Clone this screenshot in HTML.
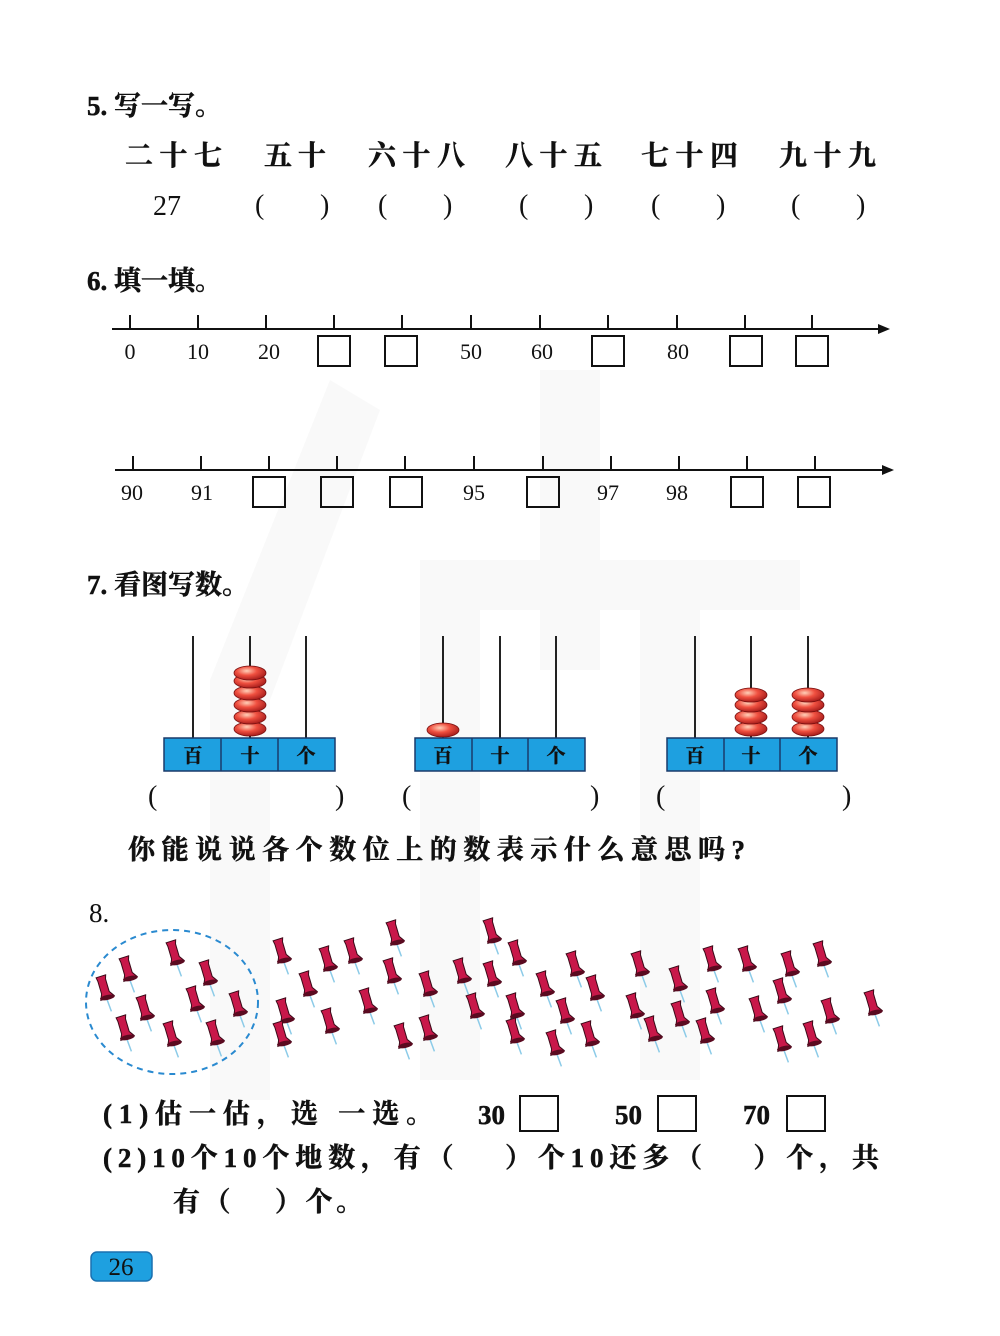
<!DOCTYPE html>
<html><head><meta charset="utf-8"><style>
html,body{margin:0;padding:0;background:#fff}
svg{display:block}
.t{font-family:"Liberation Serif","Noto Serif CJK SC",serif;fill:#111}
.c{font-family:"Liberation Serif","Noto Serif CJK SC",serif;fill:#111;stroke:#111;stroke-width:0.5;font-weight:bold}
</style></head><body>
<svg width="1000" height="1336" viewBox="0 0 1000 1336" xmlns="http://www.w3.org/2000/svg">
<defs>
<radialGradient id="bead" cx="0.4" cy="0.35" r="0.7">
<stop offset="0" stop-color="#ffd0b8"/><stop offset="0.45" stop-color="#f05040"/><stop offset="1" stop-color="#a01818"/>
</radialGradient>
<g id="pin">
<line x1="2" y1="22" x2="4" y2="36" stroke="#8ccbe8" stroke-width="1.5"/>
<path d="M-4,0 L6,-1 L5,3 L6,16 L10,21 L-4,23 L-2,17 L-3,4 Z" fill="#c8184a" stroke="#3a0a18" stroke-width="1"/>
<ellipse cx="3" cy="21.5" rx="7.5" ry="2.5" fill="#5a0a20"/>
</g>
<g id="bd"><ellipse cx="0" cy="0" rx="16" ry="7" fill="url(#bead)" stroke="#7a1010" stroke-width="0.8"/></g>
</defs>

<g fill="#f9f9f9">
<path d="M330,380 L380,410 L270,700 L270,1100 L210,1100 L210,680 Z"/>
<rect x="420" y="600" width="60" height="480"/>
<rect x="540" y="370" width="60" height="300"/>
<rect x="640" y="600" width="60" height="480"/>
<rect x="420" y="560" width="380" height="50"/>
</g>

<text class="c" x="87" y="115" font-size="27">5. 写一写。</text>
<g class="c" font-size="28">
<text x="125" y="165" textLength="97" lengthAdjust="spacing">二十七</text>
<text x="264" y="165" textLength="62" lengthAdjust="spacing">五十</text>
<text x="368" y="165" textLength="97" lengthAdjust="spacing">六十八</text>
<text x="505" y="165" textLength="97" lengthAdjust="spacing">八十五</text>
<text x="641" y="165" textLength="97" lengthAdjust="spacing">七十四</text>
<text x="779" y="165" textLength="97" lengthAdjust="spacing">九十九</text>
</g>
<g class="t" font-size="28">
<text x="153" y="215">27</text>
<text x="255" y="214">(</text><text x="320" y="214">)</text>
<text x="378" y="214">(</text><text x="443" y="214">)</text>
<text x="519" y="214">(</text><text x="584" y="214">)</text>
<text x="651" y="214">(</text><text x="716" y="214">)</text>
<text x="791" y="214">(</text><text x="856" y="214">)</text>
</g>

<text class="c" x="87" y="290" font-size="27">6. 填一填。</text>
<g stroke="#111" stroke-width="2" fill="none">
<line x1="112" y1="329" x2="880" y2="329"/>
<line x1="130" y1="315" x2="130" y2="329"/><line x1="198" y1="315" x2="198" y2="329"/><line x1="266" y1="315" x2="266" y2="329"/><line x1="334" y1="315" x2="334" y2="329"/><line x1="402" y1="315" x2="402" y2="329"/><line x1="471" y1="315" x2="471" y2="329"/><line x1="540" y1="315" x2="540" y2="329"/><line x1="608" y1="315" x2="608" y2="329"/><line x1="677" y1="315" x2="677" y2="329"/><line x1="745" y1="315" x2="745" y2="329"/><line x1="812" y1="315" x2="812" y2="329"/>
<rect x="318" y="336" width="32" height="30"/><rect x="385" y="336" width="32" height="30"/><rect x="592" y="336" width="32" height="30"/><rect x="730" y="336" width="32" height="30"/><rect x="796" y="336" width="32" height="30"/>
<line x1="115" y1="470" x2="884" y2="470"/>
<line x1="133" y1="456" x2="133" y2="470"/><line x1="201" y1="456" x2="201" y2="470"/><line x1="269" y1="456" x2="269" y2="470"/><line x1="337" y1="456" x2="337" y2="470"/><line x1="405" y1="456" x2="405" y2="470"/><line x1="474" y1="456" x2="474" y2="470"/><line x1="543" y1="456" x2="543" y2="470"/><line x1="611" y1="456" x2="611" y2="470"/><line x1="679" y1="456" x2="679" y2="470"/><line x1="747" y1="456" x2="747" y2="470"/><line x1="815" y1="456" x2="815" y2="470"/>
<rect x="253" y="477" width="32" height="30"/><rect x="321" y="477" width="32" height="30"/><rect x="390" y="477" width="32" height="30"/><rect x="527" y="477" width="32" height="30"/><rect x="731" y="477" width="32" height="30"/><rect x="798" y="477" width="32" height="30"/>
</g>
<path d="M878,324 L890,329 L878,334 Z" fill="#111"/>
<path d="M882,465 L894,470 L882,475 Z" fill="#111"/>
<g class="t" font-size="22" text-anchor="middle">
<text x="130" y="359">0</text><text x="198" y="359">10</text><text x="269" y="359">20</text><text x="471" y="359">50</text><text x="542" y="359">60</text><text x="678" y="359">80</text>
<text x="132" y="500">90</text><text x="202" y="500">91</text><text x="474" y="500">95</text><text x="608" y="500">97</text><text x="677" y="500">98</text>
</g>

<text class="c" x="87" y="594" font-size="27">7. 看图写数。</text>
<g stroke="#222" stroke-width="2">
<line x1="193" y1="636" x2="193" y2="738"/><line x1="250" y1="636" x2="250" y2="738"/><line x1="306" y1="636" x2="306" y2="738"/>
<line x1="443" y1="636" x2="443" y2="738"/><line x1="500" y1="636" x2="500" y2="738"/><line x1="556" y1="636" x2="556" y2="738"/>
<line x1="695" y1="636" x2="695" y2="738"/><line x1="751" y1="636" x2="751" y2="738"/><line x1="808" y1="636" x2="808" y2="738"/>
</g>
<g>
<use href="#bd" x="250" y="729"/><use href="#bd" x="250" y="717"/><use href="#bd" x="250" y="705"/><use href="#bd" x="250" y="693"/><use href="#bd" x="250" y="681"/><use href="#bd" x="250" y="673"/>
<use href="#bd" x="443" y="730"/>
<use href="#bd" x="751" y="729"/><use href="#bd" x="751" y="717"/><use href="#bd" x="751" y="705"/><use href="#bd" x="751" y="695"/>
<use href="#bd" x="808" y="729"/><use href="#bd" x="808" y="717"/><use href="#bd" x="808" y="705"/><use href="#bd" x="808" y="695"/>
</g>
<g stroke="#1a3a6a" stroke-width="1.5" fill="#1ea0e0">
<rect x="164" y="738" width="171" height="33"/><line x1="221" y1="738" x2="221" y2="771"/><line x1="278" y1="738" x2="278" y2="771"/>
<rect x="415" y="738" width="170" height="33"/><line x1="472" y1="738" x2="472" y2="771"/><line x1="528" y1="738" x2="528" y2="771"/>
<rect x="667" y="738" width="170" height="33"/><line x1="724" y1="738" x2="724" y2="771"/><line x1="780" y1="738" x2="780" y2="771"/>
</g>
<g class="c" font-size="19" text-anchor="middle">
<text x="193" y="762">百</text><text x="250" y="762">十</text><text x="306" y="762">个</text>
<text x="443" y="762">百</text><text x="500" y="762">十</text><text x="556" y="762">个</text>
<text x="695" y="762">百</text><text x="751" y="762">十</text><text x="808" y="762">个</text>
</g>
<g class="t" font-size="28">
<text x="148" y="805">(</text><text x="335" y="805">)</text>
<text x="402" y="805">(</text><text x="590" y="805">)</text>
<text x="656" y="805">(</text><text x="842" y="805">)</text>
</g>
<text class="c" x="128" y="859" font-size="27" textLength="617" lengthAdjust="spacing">你能说说各个数位上的数表示什么意思吗?</text>

<text class="t" x="89" y="922" font-size="27">8.</text>
<ellipse cx="172" cy="1002" rx="86" ry="72" fill="none" stroke="#2a8ad0" stroke-width="2" stroke-dasharray="6,5"/>
<g>
<use href="#pin" transform="translate(170,942) rotate(-12)"/>
<use href="#pin" transform="translate(123,958) rotate(-12)"/>
<use href="#pin" transform="translate(203,962) rotate(-12)"/>
<use href="#pin" transform="translate(100,977) rotate(-12)"/>
<use href="#pin" transform="translate(190,988) rotate(-12)"/>
<use href="#pin" transform="translate(233,993) rotate(-12)"/>
<use href="#pin" transform="translate(140,997) rotate(-12)"/>
<use href="#pin" transform="translate(120,1017) rotate(-12)"/>
<use href="#pin" transform="translate(167,1023) rotate(-12)"/>
<use href="#pin" transform="translate(210,1022) rotate(-12)"/>
<use href="#pin" transform="translate(277,940) rotate(-12)"/>
<use href="#pin" transform="translate(323,948) rotate(-12)"/>
<use href="#pin" transform="translate(348,940) rotate(-12)"/>
<use href="#pin" transform="translate(303,973) rotate(-12)"/>
<use href="#pin" transform="translate(280,1000) rotate(-12)"/>
<use href="#pin" transform="translate(277,1023) rotate(-12)"/>
<use href="#pin" transform="translate(325,1010) rotate(-12)"/>
<use href="#pin" transform="translate(363,990) rotate(-12)"/>
<use href="#pin" transform="translate(390,922) rotate(-12)"/>
<use href="#pin" transform="translate(387,960) rotate(-12)"/>
<use href="#pin" transform="translate(398,1025) rotate(-12)"/>
<use href="#pin" transform="translate(487,920) rotate(-12)"/>
<use href="#pin" transform="translate(512,942) rotate(-12)"/>
<use href="#pin" transform="translate(570,953) rotate(-12)"/>
<use href="#pin" transform="translate(635,953) rotate(-12)"/>
<use href="#pin" transform="translate(707,948) rotate(-12)"/>
<use href="#pin" transform="translate(742,948) rotate(-12)"/>
<use href="#pin" transform="translate(785,953) rotate(-12)"/>
<use href="#pin" transform="translate(817,943) rotate(-12)"/>
<use href="#pin" transform="translate(423,973) rotate(-12)"/>
<use href="#pin" transform="translate(457,960) rotate(-12)"/>
<use href="#pin" transform="translate(487,963) rotate(-12)"/>
<use href="#pin" transform="translate(540,973) rotate(-12)"/>
<use href="#pin" transform="translate(590,977) rotate(-12)"/>
<use href="#pin" transform="translate(673,968) rotate(-12)"/>
<use href="#pin" transform="translate(777,980) rotate(-12)"/>
<use href="#pin" transform="translate(470,995) rotate(-12)"/>
<use href="#pin" transform="translate(510,995) rotate(-12)"/>
<use href="#pin" transform="translate(560,1000) rotate(-12)"/>
<use href="#pin" transform="translate(630,995) rotate(-12)"/>
<use href="#pin" transform="translate(675,1003) rotate(-12)"/>
<use href="#pin" transform="translate(710,990) rotate(-12)"/>
<use href="#pin" transform="translate(753,998) rotate(-12)"/>
<use href="#pin" transform="translate(825,1000) rotate(-12)"/>
<use href="#pin" transform="translate(868,992) rotate(-12)"/>
<use href="#pin" transform="translate(423,1017) rotate(-12)"/>
<use href="#pin" transform="translate(510,1020) rotate(-12)"/>
<use href="#pin" transform="translate(550,1032) rotate(-12)"/>
<use href="#pin" transform="translate(585,1023) rotate(-12)"/>
<use href="#pin" transform="translate(648,1018) rotate(-12)"/>
<use href="#pin" transform="translate(700,1020) rotate(-12)"/>
<use href="#pin" transform="translate(777,1028) rotate(-12)"/>
<use href="#pin" transform="translate(807,1023) rotate(-12)"/>
</g>

<g class="c" font-size="27">
<text x="103" y="1123" textLength="330" lengthAdjust="spacing">(1)估一估，选 一选。</text>
<text x="478" y="1124">30</text><text x="615" y="1124">50</text><text x="743" y="1124">70</text>
<text x="103" y="1167" textLength="776" lengthAdjust="spacing">(2)10个10个地数，有（　 ）个10还多（　 ）个，共</text>
<text x="173" y="1211" textLength="190" lengthAdjust="spacing">有（　 ）个。</text>
</g>
<g fill="none" stroke="#111" stroke-width="2">
<rect x="520" y="1096" width="38" height="35"/><rect x="658" y="1096" width="38" height="35"/><rect x="787" y="1096" width="38" height="35"/>
</g>

<rect x="91" y="1252" width="61" height="29" rx="6" fill="#1ea0e0" stroke="#1a70b0" stroke-width="1.5"/>
<text class="t" x="121" y="1275" font-size="25" text-anchor="middle">26</text>
</svg>
</body></html>
